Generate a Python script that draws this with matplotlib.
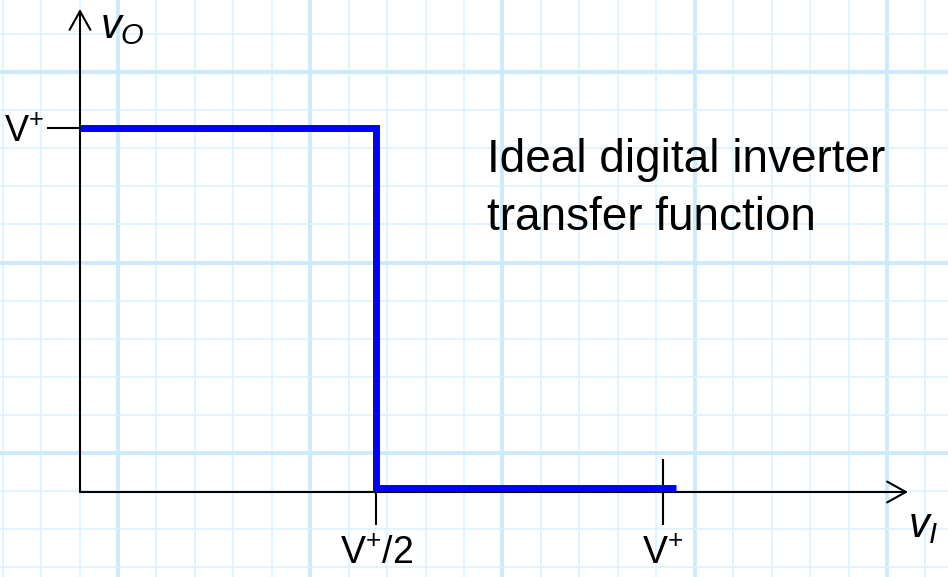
import numpy as np
import matplotlib
matplotlib.use("Agg")
import matplotlib.pyplot as plt

# ---------------------------------------------------------
# Ideal digital inverter - transfer function (vO vs vI)
# ---------------------------------------------------------

# values in units of V+
v_in = [0.0, 0.508, 0.508, 1.022]
v_out = [1.0, 1.0, 0.011, 0.011]

x_tick_pos = [0.508, 1.0]
x_tick_labels = [r'V$^{+}$/2', r'V$^{+}$']
y_tick_pos = [1.0]
y_tick_labels = [r'V$^{+}$']

title_lines = ['Ideal digital inverter', 'transfer function']

FONT = ['Liberation Sans', 'DejaVu Sans']
plt.rcParams['font.family'] = FONT
plt.rcParams['mathtext.fontset'] = 'custom'
plt.rcParams['mathtext.rm'] = 'Liberation Sans'
plt.rcParams['mathtext.it'] = 'Liberation Sans:italic'

W, H = 948, 577
fig = plt.figure(figsize=(W / 100, H / 100), dpi=100)

# graph paper background (pixel coordinates)
bg = fig.add_axes([0, 0, 1, 1])
bg.set_xlim(0, W)
bg.set_ylim(H, 0)
bg.axis('off')
for k in range(-5, 30):
    x = 118 + 38.45 * k
    if 0 <= x <= W:
        major = (k % 5 == 0)
        bg.axvline(x, color='#cdeafd' if major else '#ddf1fe',
                   lw=2.8 if major else 1.1, zorder=0)
for k in range(-5, 20):
    y = 72 + 38.1 * k
    if 0 <= y <= H:
        major = (k % 5 == 0)
        bg.axhline(y, color='#cdeafd' if major else '#ddf1fe',
                   lw=2.8 if major else 1.1, zorder=0)

# main axes: origin at pixel (80, 492), V+ at 583 px right / 364 px up
x0, sx = 80, 583
y0, sy = 492, 364
ax = fig.add_axes([0, 0, 1, 1])
ax.patch.set_alpha(0)
ax.set_xlim(-x0 / sx, (W - x0) / sx)
ax.set_ylim((y0 - H) / sy, y0 / sy)

for side in ['top', 'right']:
    ax.spines[side].set_visible(False)
for side in ['left', 'bottom']:
    ax.spines[side].set_position(('data', 0))
    ax.spines[side].set_color('none')

# axes with open arrowheads
arrow = dict(arrowstyle='->,head_length=0.9,head_width=0.5', lw=1.5,
             color='black', shrinkA=0, shrinkB=0, mutation_scale=15)
ax.annotate('', xy=(0, (y0 - 9) / sy), xytext=(0, 0), arrowprops=arrow)
ax.annotate('', xy=((908 - x0) / sx, 0), xytext=(0, 0), arrowprops=arrow)

# transfer characteristic
ax.plot(v_in, v_out, color='#0000ff', lw=5, solid_joinstyle='miter',
        solid_capstyle='butt', zorder=3)

ax.set_xticks(x_tick_pos)
ax.set_xticklabels(x_tick_labels, fontsize=27)
ax.set_yticks(y_tick_pos)
ax.set_yticklabels(y_tick_labels, fontsize=26)
ax.tick_params(axis='both', direction='inout', length=47.5, width=1.5,
               color='black')
ax.tick_params(axis='x', pad=8)
ax.tick_params(axis='y', pad=2)

# axis names
ax.text((100 - x0) / sx, (y0 - 38) / sy, r'$v_O$', fontsize=30,
        ha='left', va='baseline')
ax.text((908 - x0) / sx, (y0 - 537) / sy, r'$v_I$', fontsize=30,
        ha='left', va='baseline')

# caption
for i, line in enumerate(title_lines):
    ax.text((487 - x0) / sx, (y0 - 172 - 58 * i) / sy, line, fontsize=33,
            ha='left', va='baseline')

fig.savefig('out.png', dpi=100)
